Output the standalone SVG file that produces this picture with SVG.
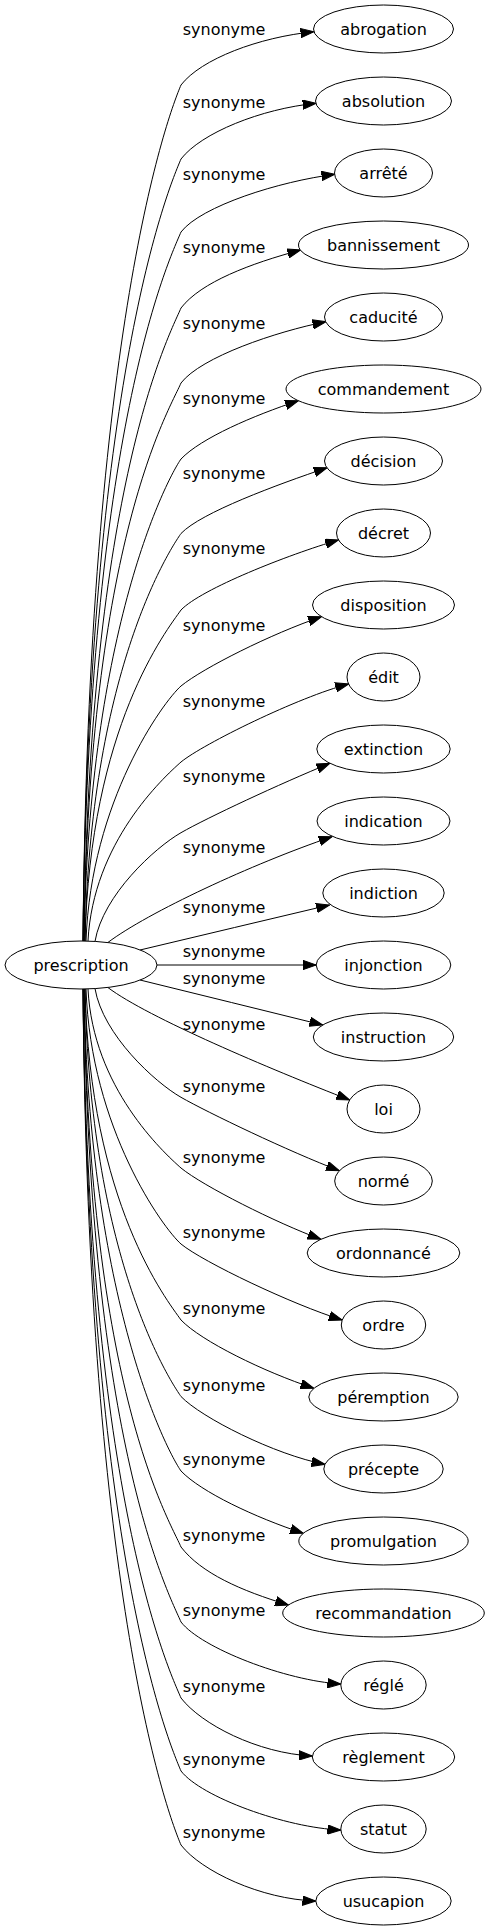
<svg xmlns="http://www.w3.org/2000/svg" width="490" height="1931" viewBox="0 0 490 1931">
<defs>
<style>
.n ellipse{fill:#fff;stroke:#000;stroke-width:1}
.n text{font-family:"DejaVu Sans",sans-serif;font-size:16px;text-anchor:middle;fill:#000}
.e path{fill:none;stroke:#000;stroke-width:1;marker-end:url(#arr)}
.e text{font-family:"DejaVu Sans",sans-serif;font-size:16px;fill:#000}
</style>
<marker id="arr" markerUnits="userSpaceOnUse" markerWidth="14" markerHeight="10" viewBox="0 -5 14 10" refX="13.3" refY="0" orient="auto"><path d="M0,-4.67L13.3,0L0,4.67z" fill="#000" stroke="#000" stroke-width="1"/></marker>
</defs>
<rect width="490" height="1931" fill="#fff"/>
<g id="connectors" class="e">
<path d="M83,941 C88,325 169,113 181,85 C201,59 258.9,37.2 313.9,31.7"/>
<path d="M83,941 C88,378 169,187 181,159 C201,133 261,108.8 316,103.3"/>
<path d="M83,941 C88,430.5 169,260 181,232 C201,206 279.8,181.3 334.8,174.3"/>
<path d="M84,941 C89,485 169,336 181,308 C201,282 250.7,263.5 300.7,250"/>
<path d="M84,941 C89,539 169,411 181,383 C201,357 275.9,331.7 325.9,321.7"/>
<path d="M84,941 C89,628 167,479 181,459 C201,438 253.4,415.6 298.4,400.7"/>
<path d="M85,941 C90,676 167,553.5 181,533.5 C201,512.5 277.1,484.7 327.1,467.7"/>
<path d="M85,941 C90,726 167,630 181,610 C201,589 288.5,554.5 338.5,540"/>
<path d="M86,941 C91,801 163,702 181,686 C203,668 271.5,633.7 321.5,616.7"/>
<path d="M88,941 C93,842.5 163,778 181,762 C203,744 298.6,697 348.6,684"/>
<path d="M95,941.4 C103,895 155,847.6 181,832.7 C207,817.8 279.9,783.8 329.9,763.3"/>
<path d="M108,942.4 C148,912.4 252,863.9 332,836.7"/>
<path d="M140,950 C203,935 266,920 329.5,905"/>
<path d="M157,965 L316.2,965"/>
<path d="M140,980 C201,995 262,1010 322.7,1025"/>
<path d="M108,987.6 C148,1017.6 269.7,1068.8 349.7,1100"/>
<path d="M95,988.6 C103,1035 155,1082.4 181,1097.3 C207,1112.2 289.4,1151.7 339.4,1170.7"/>
<path d="M88,989 C93,1087.5 163,1152 181,1168 C203,1186 275.9,1222.7 320.9,1239.3"/>
<path d="M86,989 C91,1129 163,1228 181,1244 C203,1262 292.2,1304.5 342.2,1320"/>
<path d="M85,989 C90,1204 167,1300 181,1320 C201,1341 263.9,1371.8 313.9,1388.3"/>
<path d="M85,989 C90,1254 167,1376.5 181,1396.5 C201,1417.5 274.9,1454.8 324.9,1464.3"/>
<path d="M84,989 C89,1302 167,1451 181,1471 C201,1492 255.3,1517.5 303.3,1533.3"/>
<path d="M84,989 C89,1391 169,1519 181,1547 C201,1573 240.5,1590.6 288.5,1605"/>
<path d="M84,989 C89,1445 169,1594 181,1622 C201,1648 285.8,1680.7 340.8,1684"/>
<path d="M83,989 C88,1499.5 169,1670 181,1698 C201,1724 257.3,1753.3 312.3,1756"/>
<path d="M83,989 C88,1552 169,1743 181,1771 C201,1797 285.8,1827.8 340.8,1830"/>
<path d="M83,989 C88,1605 169,1817 181,1845 C201,1871 260.8,1899.3 315.8,1901"/>
<text x="182.7" y="34.8">synonyme</text>
<text x="182.7" y="107.5">synonyme</text>
<text x="182.7" y="180.2">synonyme</text>
<text x="182.7" y="253.2">synonyme</text>
<text x="182.7" y="329.2">synonyme</text>
<text x="182.7" y="403.5">synonyme</text>
<text x="182.7" y="479.2">synonyme</text>
<text x="182.7" y="553.5">synonyme</text>
<text x="182.7" y="630.8">synonyme</text>
<text x="182.7" y="706.5">synonyme</text>
<text x="182.7" y="781.8">synonyme</text>
<text x="182.7" y="852.5">synonyme</text>
<text x="182.7" y="912.5">synonyme</text>
<text x="182.7" y="956.8">synonyme</text>
<text x="182.7" y="984.2">synonyme</text>
<text x="182.7" y="1030.2">synonyme</text>
<text x="182.7" y="1091.8">synonyme</text>
<text x="182.7" y="1162.5">synonyme</text>
<text x="182.7" y="1238.2">synonyme</text>
<text x="182.7" y="1314.2">synonyme</text>
<text x="182.7" y="1390.8">synonyme</text>
<text x="182.7" y="1465.2">synonyme</text>
<text x="182.7" y="1540.8">synonyme</text>
<text x="182.7" y="1615.8">synonyme</text>
<text x="182.7" y="1691.8">synonyme</text>
<text x="182.7" y="1764.8">synonyme</text>
<text x="182.7" y="1837.5">synonyme</text>
</g>
<g id="prescription" class="n"><ellipse cx="81" cy="965" rx="76" ry="24"/><text x="81" y="970.5">prescription</text></g>
<g id="abrogation" class="n"><ellipse cx="383.5" cy="29" rx="70" ry="24"/><text x="383.5" y="34.5">abrogation</text></g>
<g id="absolution" class="n"><ellipse cx="383.5" cy="101" rx="68" ry="24"/><text x="383.5" y="106.5">absolution</text></g>
<g id="arrete" class="n"><ellipse cx="383.5" cy="173" rx="49" ry="24"/><text x="383.5" y="178.5">arrêté</text></g>
<g id="bannissement" class="n"><ellipse cx="383.5" cy="245" rx="85" ry="24"/><text x="383.5" y="250.5">bannissement</text></g>
<g id="caducite" class="n"><ellipse cx="383.5" cy="317" rx="59" ry="24"/><text x="383.5" y="322.5">caducité</text></g>
<g id="commandement" class="n"><ellipse cx="383.5" cy="389" rx="97.5" ry="24"/><text x="383.5" y="394.5">commandement</text></g>
<g id="decision" class="n"><ellipse cx="383.5" cy="461" rx="59" ry="24"/><text x="383.5" y="466.5">décision</text></g>
<g id="decret" class="n"><ellipse cx="383.5" cy="533" rx="47" ry="24"/><text x="383.5" y="538.5">décret</text></g>
<g id="disposition" class="n"><ellipse cx="383.5" cy="605" rx="71" ry="24"/><text x="383.5" y="610.5">disposition</text></g>
<g id="edit" class="n"><ellipse cx="383.5" cy="677" rx="36.5" ry="24"/><text x="383.5" y="682.5">édit</text></g>
<g id="extinction" class="n"><ellipse cx="383.5" cy="749" rx="66.7" ry="24"/><text x="383.5" y="754.5">extinction</text></g>
<g id="indication" class="n"><ellipse cx="383.5" cy="821" rx="66.5" ry="24"/><text x="383.5" y="826.5">indication</text></g>
<g id="indiction" class="n"><ellipse cx="383.5" cy="893" rx="60.7" ry="24"/><text x="383.5" y="898.5">indiction</text></g>
<g id="injonction" class="n"><ellipse cx="383.5" cy="965" rx="67.3" ry="24"/><text x="383.5" y="970.5">injonction</text></g>
<g id="instruction" class="n"><ellipse cx="383.5" cy="1037" rx="70.2" ry="24"/><text x="383.5" y="1042.5">instruction</text></g>
<g id="loi" class="n"><ellipse cx="383.5" cy="1109" rx="36.5" ry="24"/><text x="383.5" y="1114.5">loi</text></g>
<g id="norme" class="n"><ellipse cx="383.5" cy="1181" rx="48.8" ry="24"/><text x="383.5" y="1186.5">normé</text></g>
<g id="ordonnance" class="n"><ellipse cx="383.5" cy="1253" rx="76.3" ry="24"/><text x="383.5" y="1258.5">ordonnancé</text></g>
<g id="ordre" class="n"><ellipse cx="383.5" cy="1325" rx="42.2" ry="24"/><text x="383.5" y="1330.5">ordre</text></g>
<g id="peremption" class="n"><ellipse cx="383.5" cy="1397" rx="74.7" ry="24"/><text x="383.5" y="1402.5">péremption</text></g>
<g id="precepte" class="n"><ellipse cx="383.5" cy="1469" rx="59.7" ry="24"/><text x="383.5" y="1474.5">précepte</text></g>
<g id="promulgation" class="n"><ellipse cx="383.5" cy="1541" rx="84.7" ry="24"/><text x="383.5" y="1546.5">promulgation</text></g>
<g id="recommandation" class="n"><ellipse cx="383.5" cy="1613" rx="100.8" ry="24"/><text x="383.5" y="1618.5">recommandation</text></g>
<g id="regle" class="n"><ellipse cx="383.5" cy="1685" rx="42.7" ry="24"/><text x="383.5" y="1690.5">réglé</text></g>
<g id="reglement" class="n"><ellipse cx="383.5" cy="1757" rx="71.2" ry="24"/><text x="383.5" y="1762.5">règlement</text></g>
<g id="statut" class="n"><ellipse cx="383.5" cy="1829" rx="42.7" ry="24"/><text x="383.5" y="1834.5">statut</text></g>
<g id="usucapion" class="n"><ellipse cx="383.5" cy="1901" rx="67.7" ry="24"/><text x="383.5" y="1906.5">usucapion</text></g>
</svg>
